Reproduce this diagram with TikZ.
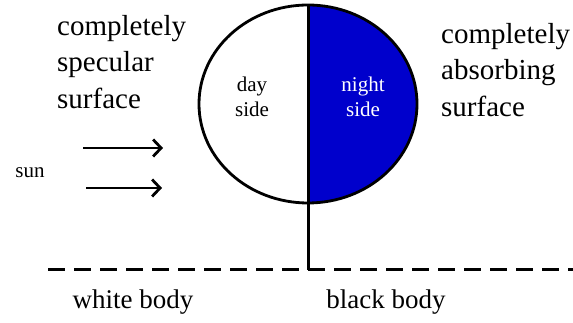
\documentclass[tikz,border=0pt]{standalone}
\usepackage{fontspec}
\setmainfont{Liberation Serif}
\usetikzlibrary{shapes.geometric,arrows.meta,positioning}
\definecolor{nightblue}{HTML}{0000CC}
\tikzset{
  bigtext/.style={inner sep=0pt,align=left,anchor=north west,
    font=\fontsize{29}{36.5}\selectfont},
  bodytext/.style={inner sep=0pt,font=\fontsize{27}{32}\selectfont},
  sidetext/.style={inner sep=0pt,align=center,text=#1,
    font=\fontsize{21}{25}\selectfont},
  sidetext/.default={black},
  planet/.style={ellipse,draw,line width=2.8pt,outer sep=0pt,inner sep=0pt,
    minimum width=218pt,minimum height=198pt,fill=white,
    path picture={\fill[nightblue] (path picture bounding box.north)
      rectangle (path picture bounding box.south east);}},
  sunray/.style={-{Straight Barb[length=8pt,width=17pt]},line width=2.8pt},
  ground/.style={line width=3pt,dash pattern=on 17pt off 9pt},
}
\begin{document}
\begin{tikzpicture}[x=1pt,y=1pt]
  \useasboundingbox (0,0) rectangle (573,323);
  % planet split into day and night halves
  \node[planet] (earth) at (308,219) {};
  \node[sidetext] (day) at (252,226) {day\\side};
  \node[sidetext=white] (night) at (363,226) {night\\side};
  % ground line and terminator
  \coordinate (gl west) at (48,53);
  \coordinate (gl east) at (573,53);
  \draw[ground] (gl west) -- (gl east);
  \draw[line width=3pt] (earth.north) -- (earth.north |- gl west);
  % surfaces
  \node[bigtext] (specular) at (57,308) {completely\\specular\\surface};
  \node[bigtext] (absorbing) at (441,300) {completely\\absorbing\\surface};
  % sunlight
  \node[sidetext] (sun) at (30,150) {sun};
  \coordinate (ray1 a) at (83,175);
  \coordinate (ray1 b) at (163,175);
  \coordinate (ray2 a) at (86,135);
  \coordinate (ray2 b) at (162,135);
  \draw[sunray] (ray1 a) -- (ray1 b);
  \draw[sunray] (ray2 a) -- (ray2 b);
  % bodies
  \node[bodytext] (white) at (133,21) {white body};
  \node[bodytext] (black) at (386,21) {black body};
\end{tikzpicture}
\end{document}
